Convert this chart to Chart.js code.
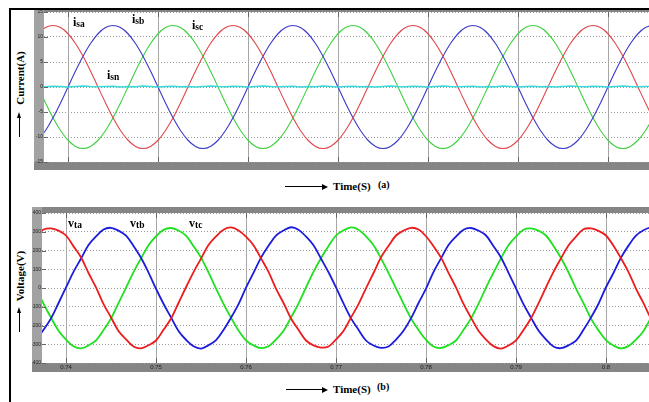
<!DOCTYPE html>
<html>
<head>
<meta charset="utf-8">
<script src="https://cdn.jsdelivr.net/npm/chart.js@4.4.1/dist/chart.umd.min.js"></script>
<style>
  html, body { margin: 0; padding: 0; background: #fff; width: 649px; height: 402px; overflow: hidden; }
  .abs { position: absolute; }
  .serif { font-family: "Liberation Serif", "DejaVu Serif", serif; font-weight: bold; color: #000; white-space: nowrap; }
  canvas { position: absolute; }
  .lbl { font-size: 12px; line-height: 12px; }
  .lbl sub { font-size: 9.5px; vertical-align: -1px; }
</style>
</head>
<body>
<script>
// ---- data ----
const times = [0.73667,0.7375,0.73833,0.73917,0.74,0.74083,0.74167,0.7425,0.74333,0.74417,0.745,0.74583,0.74667,0.7475,0.74833,0.74917,
0.75,0.75083,0.75167,0.7525,0.75333,0.75417,0.755,0.75583,0.75667,0.7575,0.75833,0.75917,
0.76,0.76083,0.76167,0.7625,0.76333,0.76417,0.765,0.76583,0.76667,0.7675,0.76833,0.76917,
0.77,0.77083,0.77167,0.7725,0.77333,0.77417,0.775,0.77583,0.77667,0.7775,0.77833,0.77917,
0.78,0.78083,0.78167,0.7825,0.78333,0.78417,0.785,0.78583,0.78667,0.7875,0.78833,0.78917,
0.79,0.79083,0.79167,0.7925,0.79333,0.79417,0.795,0.79583,0.79667,0.7975,0.79833,0.79917,
0.8,0.80083,0.80167,0.8025,0.80333,0.80417,0.805,0.80583];

const isa = [10.65,11.88,
12.3,11.88,10.65,8.7,6.15,3.18,0,-3.18,-6.15,-8.7,-10.65,-11.88,-12.3,-11.88,-10.65,-8.7,-6.15,-3.18,0,3.18,6.15,8.7,10.65,11.88,
12.3,11.88,10.65,8.7,6.15,3.18,0,-3.18,-6.15,-8.7,-10.65,-11.88,-12.3,-11.88,-10.65,-8.7,-6.15,-3.18,0,3.18,6.15,8.7,10.65,11.88,
12.3,11.88,10.65,8.7,6.15,3.18,0,-3.18,-6.15,-8.7,-10.65,-11.88,-12.3,-11.88,-10.65,-8.7,-6.15,-3.18,0,3.18,6.15,8.7,10.65,11.88,
12.3,11.88,10.65,8.7,6.15,3.18,0,-3.18,-6.15,-8.7];

const isb = [-10.65,-8.7,-6.15,-3.18,0,3.18,6.15,8.7,10.65,11.88,
12.3,11.88,10.65,8.7,6.15,3.18,0,-3.18,-6.15,-8.7,-10.65,-11.88,-12.3,-11.88,-10.65,-8.7,-6.15,-3.18,0,3.18,6.15,8.7,10.65,11.88,
12.3,11.88,10.65,8.7,6.15,3.18,0,-3.18,-6.15,-8.7,-10.65,-11.88,-12.3,-11.88,-10.65,-8.7,-6.15,-3.18,0,3.18,6.15,8.7,10.65,11.88,
12.3,11.88,10.65,8.7,6.15,3.18,0,-3.18,-6.15,-8.7,-10.65,-11.88,-12.3,-11.88,-10.65,-8.7,-6.15,-3.18,0,3.18,6.15,8.7,10.65,11.88,
12.3,11.88];

const isc = [0,-3.18,-6.15,-8.7,-10.65,-11.88,-12.3,-11.88,-10.65,-8.7,-6.15,-3.18,0,3.18,6.15,8.7,10.65,11.88,
12.3,11.88,10.65,8.7,6.15,3.18,0,-3.18,-6.15,-8.7,-10.65,-11.88,-12.3,-11.88,-10.65,-8.7,-6.15,-3.18,0,3.18,6.15,8.7,10.65,11.88,
12.3,11.88,10.65,8.7,6.15,3.18,0,-3.18,-6.15,-8.7,-10.65,-11.88,-12.3,-11.88,-10.65,-8.7,-6.15,-3.18,0,3.18,6.15,8.7,10.65,11.88,
12.3,11.88,10.65,8.7,6.15,3.18,0,-3.18,-6.15,-8.7,-10.65,-11.88,-12.3,-11.88,-10.65,-8.7,-6.15,-3.18];

const isn = [0.1,0.05,0.15,0.1,0.0,0.1,0.2,0.1,0.05,0.1,0.15,0.0,0.1,0.05,0.2,0.1,0.0,0.1,0.15,0.05,0.1,0.0,0.1,0.2,
0.1,0.05,0.15,0.1,0.0,0.1,0.2,0.1,0.05,0.1,0.15,0.0,0.1,0.05,0.2,0.1,0.0,0.1,0.15,0.05,0.1,0.0,0.1,0.2,
0.1,0.05,0.15,0.1,0.0,0.1,0.2,0.1,0.05,0.1,0.15,0.0,0.1,0.05,0.2,0.1,0.0,0.1,0.15,0.05,0.1,0.0,0.1,0.2,
0.1,0.05,0.15,0.1,0.0,0.1,0.2,0.1,0.05,0.1,0.15,0.0];

const vta = [280,312,
318,306,280,222,163,80,3,-86,-157,-229,-274,-312,-322,-305,-280,-223,-163,-80,4,85,157,229,275,311,
323,307,274,228,158,86,-3,-80,-163,-223,-280,-306,-318,-312,-274,-229,-157,-86,-2,80,163,224,280,306,
321,312,276,223,162,81,3,-85,-158,-228,-275,-310,-323,-307,-279,-224,-161,-82,3,86,158,227,274,313,
318,305,280,225,158,85,-3,-81,-163,-224];

const vtb = [-280,-223,-162,-80,3,86,157,229,275,312,
321,306,279,224,161,82,-4,-84,-157,-229,-276,-311,-323,-305,-278,-224,-159,-86,2,81,162,225,279,307,
324,311,274,228,157,84,3,-82,-162,-223,-280,-307,-319,-312,-275,-228,-162,-80,-3,85,158,229,274,311,
320,306,280,223,163,81,-2,-86,-158,-227,-274,-312,-321,-306,-281,-223,-158,-84,4,80,162,226,279,308,
322,310];

const vtc = [3,-84,-158,-228,-275,-311,-322,-306,-279,-224,-162,-81,2,85,158,228,276,310,
320,307,279,223,162,83,-3,-85,-158,-227,-279,-306,-321,-311,-275,-228,-157,-83,3,86,159,224,280,307,
323,311,275,228,158,81,-2,-83,-162,-224,-276,-312,-320,-305,-280,-223,-162,-85,2,82,158,228,274,311,
318,306,280,224,160,84,-3,-81,-163,-226,-278,-307,-322,-310,-275,-229,-158,-82];

const xTicks = [0.74,0.75,0.76,0.77,0.78,0.79,0.80];
const xTickLabels = ['0.74','0.75','0.76','0.77','0.78','0.79','0.8'];
const yTicksI = [-15,-10,-5,0,5,10,15];
const yTicksV = [-400,-300,-200,-100,0,100,200,300,400];
</script>

<!-- outer frame -->
<div class="abs" style="left:10px;top:8px;width:639px;height:2px;background:#000;"></div>
<div class="abs" style="left:9px;top:8px;width:2px;height:394px;background:#000;"></div>

<canvas id="c1" width="615" height="160" style="left:34px;top:10px;"></canvas>
<canvas id="c2" width="617" height="165" style="left:32px;top:207px;"></canvas>

<!-- axis titles -->
<div class="abs serif" style="left:20px;top:78px;font-size:11px;transform:translate(-50%,-50%) rotate(-90deg);">Current(A)</div>
<div class="abs" style="left:19px;top:117px;width:1px;height:20px;background:#000;"></div>
<div class="abs" style="left:17px;top:112px;width:0;height:0;border-left:2.5px solid transparent;border-right:2.5px solid transparent;border-bottom:6px solid #000;"></div>

<div class="abs serif" style="left:20px;top:276px;font-size:11px;transform:translate(-50%,-50%) rotate(-90deg);">Voltage(V)</div>
<div class="abs" style="left:19px;top:312px;width:1px;height:20px;background:#000;"></div>
<div class="abs" style="left:17px;top:307px;width:0;height:0;border-left:2.5px solid transparent;border-right:2.5px solid transparent;border-bottom:6px solid #000;"></div>

<div class="abs" style="left:285px;top:186px;width:38px;height:1px;background:#000;"></div>
<div class="abs" style="left:322px;top:183.5px;width:0;height:0;border-top:3px solid transparent;border-bottom:3px solid transparent;border-left:6px solid #000;"></div>
<div class="abs serif" style="left:333px;top:180px;font-size:11px;line-height:12px;">Time(S)</div>
<div class="abs serif" style="left:378px;top:179px;font-size:10px;line-height:12px;">(a)</div>

<div class="abs" style="left:286px;top:389px;width:37px;height:1px;background:#000;"></div>
<div class="abs" style="left:322px;top:386.5px;width:0;height:0;border-top:3px solid transparent;border-bottom:3px solid transparent;border-left:6px solid #000;"></div>
<div class="abs serif" style="left:333px;top:383px;font-size:11px;line-height:12px;">Time(S)</div>
<div class="abs serif" style="left:377px;top:381px;font-size:10px;line-height:12px;">(b)</div>

<!-- curve labels -->
<div class="abs serif lbl" style="left:73px;top:16px;">i<sub>sa</sub></div>
<div class="abs serif lbl" style="left:132px;top:13px;">i<sub>sb</sub></div>
<div class="abs serif lbl" style="left:192px;top:19px;">i<sub>sc</sub></div>
<div class="abs serif lbl" style="left:107px;top:69px;">i<sub>sn</sub></div>
<div class="abs serif lbl" style="left:68px;top:217px;">v<sub>ta</sub></div>
<div class="abs serif lbl" style="left:130px;top:217px;">v<sub>tb</sub></div>
<div class="abs serif lbl" style="left:189px;top:217px;">v<sub>tc</sub></div>

<script>
const framePlugin = {
  id: 'frame',
  beforeDraw(chart) {
    const {ctx, chartArea: a, width, height} = chart;
    ctx.save();
    ctx.fillStyle = '#858585';
    ctx.fillRect(0, 0, width, height);
    ctx.fillStyle = '#a2a2a2';
    ctx.fillRect(0, 0, a.left, a.bottom);
    ctx.fillStyle = '#ffffff';
    ctx.fillRect(a.left, a.top, a.right - a.left, a.bottom - a.top);
    ctx.restore();
  },
  beforeDatasetsDraw(chart) {
    const {ctx, chartArea: a} = chart;
    const xs = chart.scales.x;
    ctx.save();
    ctx.strokeStyle = '#a6a6a6';
    ctx.lineWidth = 1;
    xTicks.forEach(v => {
      const px = Math.round(xs.getPixelForValue(v)) + 0.5;
      ctx.beginPath();
      ctx.moveTo(px, a.top);
      ctx.lineTo(px, a.bottom);
      ctx.stroke();
    });
    ctx.restore();
  },
  afterDraw(chart) {
    const {ctx, chartArea: a} = chart;
    const xs = chart.scales.x;
    ctx.save();
    ctx.strokeStyle = '#666';
    ctx.lineWidth = 1;
    xTicks.forEach(v => {
      const px = Math.round(xs.getPixelForValue(v)) + 0.5;
      ctx.beginPath();
      ctx.moveTo(px, a.top); ctx.lineTo(px, a.top + 5);
      ctx.moveTo(px, a.bottom); ctx.lineTo(px, a.bottom - 5);
      ctx.stroke();
    });
    const ys = chart.scales.y;
    ys.ticks.forEach(t => {
      const py = Math.round(ys.getPixelForValue(t.value)) + 0.5;
      ctx.beginPath();
      ctx.moveTo(a.left, py); ctx.lineTo(a.left + 4, py);
      ctx.stroke();
    });
    ctx.restore();
  }
};

function pts(ys) { return times.map((t, i) => ({x: t, y: ys[i]})); }

function makeChart(id, cfg) {
  return new Chart(document.getElementById(id), {
    type: 'line',
    data: { datasets: cfg.datasets },
    options: {
      responsive: false,
      animation: false,
      devicePixelRatio: 1,
      layout: { padding: { top: cfg.padTop, left: 0, right: 0, bottom: 0 } },
      plugins: { legend: { display: false }, tooltip: { enabled: false } },
      elements: { point: { radius: 0 }, line: { tension: 0.35 } },
      scales: {
        x: {
          type: 'linear', min: cfg.xMin, max: cfg.xMax,
          afterBuildTicks: s => { s.ticks = xTicks.map(v => ({ value: v })); },
          afterFit: s => { s.height = cfg.xH; s.paddingLeft = 0; s.paddingRight = 0; s.paddingTop = 0; s.paddingBottom = 0; },
          grid: { display: false, drawTicks: false },
          border: { display: false },
          ticks: {
            display: cfg.showX, autoSkip: false, maxRotation: 0, padding: 1,
            color: '#222', font: { family: 'Liberation Sans', size: 6 },
            callback: (v, i) => xTickLabels[i]
          }
        },
        y: {
          min: cfg.yMin, max: cfg.yMax,
          afterBuildTicks: s => { s.ticks = cfg.yTicks.map(v => ({ value: v })); },
          afterFit: s => { s.width = cfg.yW; s.paddingTop = 0; s.paddingBottom = 0; s.paddingLeft = 0; s.paddingRight = 0; },
          grid: { color: '#9a9a9a', lineWidth: 1, drawTicks: false },
          border: { display: false, dash: [1, 2] },
          ticks: {
            autoSkip: false, padding: 1,
            color: '#222', font: { family: 'Liberation Sans', size: 5 },
            callback: v => String(v)
          }
        }
      }
    },
    plugins: [framePlugin]
  });
}

makeChart('c1', {
  padTop: 2, xH: 8, yW: 10, xMin: 0.73733, xMax: 0.80456, yMin: -15, yMax: 15, yTicks: yTicksI, showX: false,
  datasets: [
    { data: pts(isn), borderColor: '#3ad8d8', borderWidth: 1.3, tension: 0 },
    { data: pts(isa), borderColor: '#e0464c', borderWidth: 1.1 },
    { data: pts(isb), borderColor: '#3b3bc8', borderWidth: 1.1 },
    { data: pts(isc), borderColor: '#3fd03f', borderWidth: 1.1 }
  ]
});

makeChart('c2', {
  padTop: 6, xH: 9, yW: 10, xMin: 0.73733, xMax: 0.80478, yMin: -400, yMax: 400, yTicks: yTicksV, showX: true,
  datasets: [
    { data: pts(vta), borderColor: '#ec1c1c', borderWidth: 1.8 },
    { data: pts(vtb), borderColor: '#1c1cdc', borderWidth: 1.8 },
    { data: pts(vtc), borderColor: '#1ee01e', borderWidth: 1.8 }
  ]
});
</script>
</body>
</html>
